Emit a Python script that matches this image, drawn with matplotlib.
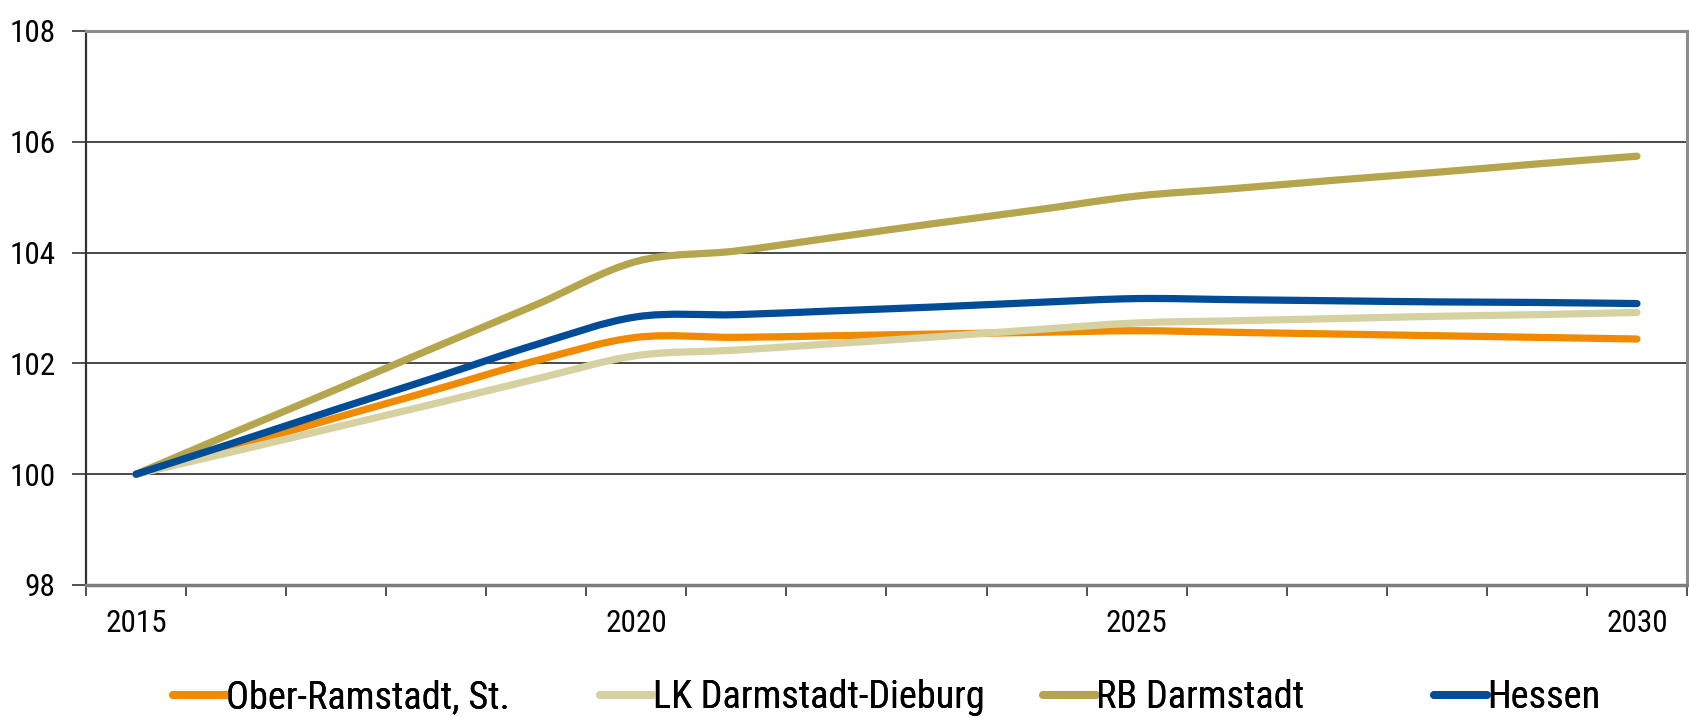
import matplotlib
matplotlib.use("Agg")
import matplotlib.pyplot as plt
from matplotlib.path import Path
from matplotlib.patches import PathPatch
from matplotlib.lines import Line2D
from matplotlib import font_manager as fm
import numpy as np

years = list(range(2015, 2031))
year_labels = ["2015", "2020", "2025", "2030"]
y_tick_values = [98, 100, 102, 104, 106, 108]
series_names = ["Ober-Ramstadt, St.", "LK Darmstadt-Dieburg", "RB Darmstadt", "Hessen"]

ober_ramstadt = [100.0, 100.50, 101.02, 101.53, 102.05, 102.47, 102.47, 102.50, 102.53, 102.56, 102.59,
                 102.56, 102.53, 102.50, 102.47, 102.44]
lk_darmstadt_dieburg = [100.0, 100.42, 100.85, 101.28, 101.72, 102.14, 102.24, 102.36, 102.48, 102.61, 102.73,
                        102.77, 102.81, 102.85, 102.88, 102.92]
rb_darmstadt = [100.0, 100.77, 101.53, 102.30, 103.06, 103.84, 104.03, 104.28, 104.53, 104.77, 105.02,
                105.16, 105.31, 105.45, 105.60, 105.74]
hessen = [100.0, 100.58, 101.17, 101.75, 102.34, 102.84, 102.88, 102.95, 103.02, 103.10, 103.17,
          103.15, 103.13, 103.11, 103.10, 103.08]

colors = ["#F08A00", "#D6D1A0", "#B5A54C", "#004C97"]
all_series = [ober_ramstadt, lk_darmstadt_dieburg, rb_darmstadt, hessen]

available = {f.name for f in fm.fontManager.ttflist}
font_choice = None
for cand in ["Liberation Sans Narrow", "Nimbus Sans Narrow", "Arial Narrow", "Roboto Condensed",
             "PT Sans Narrow", "Pragati Narrow", "Archivo Narrow"]:
    if cand in available:
        font_choice = cand
        break
families = ([font_choice] if font_choice else []) + ['Liberation Sans', 'DejaVu Sans']
plt.rcParams['font.family'] = families

fig = plt.figure(figsize=(16.9, 7.18), dpi=100)
ax = fig.add_axes([86 / 1690, 1 - 585 / 718, (1687 - 86) / 1690, (585 - 31) / 718])


def smooth_path(xs, ys):
    pts = np.column_stack([xs, ys]).astype(float)
    n = len(pts)
    verts = [pts[0]]
    codes = [Path.MOVETO]
    for i in range(n - 1):
        p0 = pts[i - 1] if i > 0 else pts[i]
        p1 = pts[i]
        p2 = pts[i + 1]
        p3 = pts[i + 2] if i + 2 < n else pts[i + 1]
        c1 = p1 + (p2 - p0) / 6.0
        c2 = p2 - (p3 - p1) / 6.0
        verts += [c1, c2, p2]
        codes += [Path.CURVE4] * 3
    return Path(verts, codes)


xpos = np.arange(len(years))
for ys, c in zip(all_series, colors):
    patch = PathPatch(smooth_path(xpos, ys), facecolor='none', edgecolor=c, lw=5.2,
                      capstyle='round', joinstyle='round', zorder=3)
    ax.add_patch(patch)

ax.set_xlim(-0.5, len(years) - 0.5)
ax.set_ylim(98, 108)
ax.set_yticks(y_tick_values)
ax.set_yticklabels([str(v) for v in y_tick_values])
ax.yaxis.grid(True, color='#3a3a3a', lw=1.3, zorder=1)
ax.set_axisbelow(True)

ax.set_xticks(np.arange(-0.5, len(years) + 0.5, 1.0))
ax.set_xticklabels([])
label_pos = [years.index(int(l)) for l in year_labels]
ax.set_xticks(label_pos, minor=True)
ax.set_xticklabels(year_labels, minor=True)
ax.tick_params(axis='x', which='major', length=8, width=1.2, color='#333333', direction='out')
ax.tick_params(axis='x', which='minor', length=0, pad=17, labelsize=22.5)
ax.tick_params(axis='y', which='major', length=10, width=1.2, color='#333333', direction='out',
               pad=12, labelsize=22.5)

ax.spines['left'].set_color('#333333')
ax.spines['left'].set_linewidth(1.6)
ax.spines['bottom'].set_color('#7f7f7f')
ax.spines['bottom'].set_linewidth(2.5)
ax.spines['top'].set_color('#8c8c8c')
ax.spines['top'].set_linewidth(2.2)
ax.spines['right'].set_color('#8c8c8c')
ax.spines['right'].set_linewidth(2.2)

legend_x = [173, 600, 1043, 1434]
for name, c, lx in zip(series_names, colors, legend_x):
    h = Line2D([0], [0], color=c, lw=5.6, solid_capstyle='round')
    leg = fig.legend([h], [name], loc='center left', bbox_to_anchor=(lx / 1690, 20 / 718),
                     frameon=False, fontsize=27.5, handlelength=1.4, handletextpad=0.0,
                     borderpad=0.0, borderaxespad=0.0)
    fig.add_artist(leg)

fig.savefig("out.png", dpi=100)
